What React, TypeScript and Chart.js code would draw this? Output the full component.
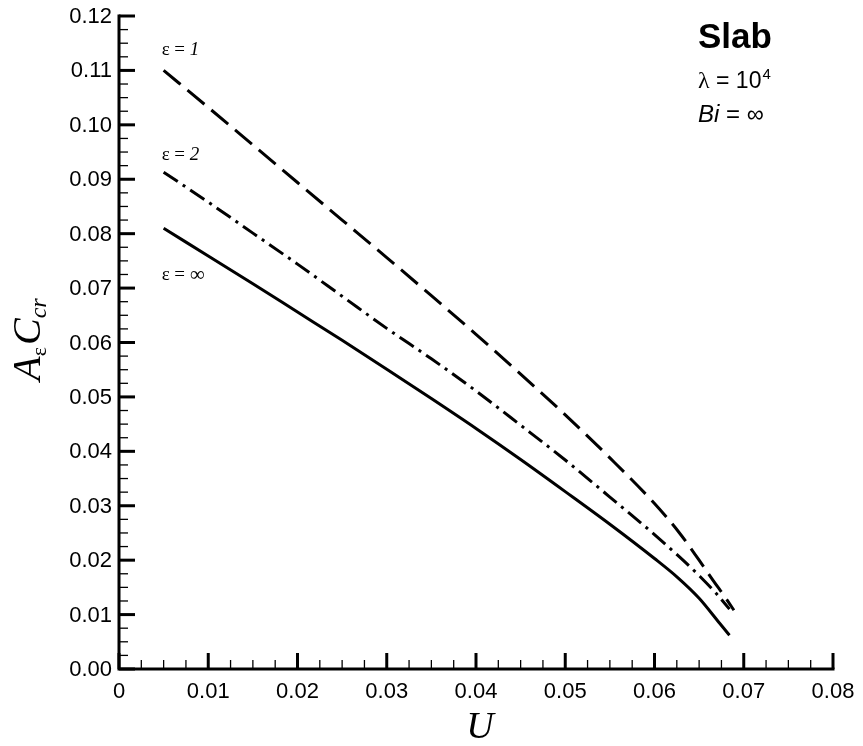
import React, { useEffect, useRef } from "react";
import { Chart, registerables } from "chart.js";

Chart.register(...registerables);

// ε = 1 (dashed)
const U_EPS1 = [0.005, 0.01, 0.015, 0.02, 0.025, 0.03, 0.035, 0.04, 0.045, 0.05, 0.055, 0.06, 0.0628, 0.065, 0.0666, 0.068, 0.0689];
const V_EPS1 = [0.11, 0.1032, 0.0963, 0.0894, 0.0825, 0.0756, 0.0686, 0.0615, 0.0542, 0.0467, 0.0388, 0.0304, 0.025, 0.02, 0.0162, 0.013, 0.0108];
// ε = 2 (dash-dot)
const U_EPS2 = [0.005, 0.01, 0.015, 0.02, 0.025, 0.03, 0.035, 0.04, 0.045, 0.05, 0.055, 0.06, 0.0628, 0.0651, 0.0669, 0.0684];
const V_EPS2 = [0.0913, 0.0858, 0.0801, 0.0744, 0.0685, 0.0626, 0.057, 0.0511, 0.0448, 0.0384, 0.0316, 0.0247, 0.0206, 0.017, 0.0139, 0.011];
// ε = ∞ (solid)
const U_EPSINF = [0.005, 0.01, 0.015, 0.02, 0.025, 0.03, 0.035, 0.04, 0.045, 0.05, 0.055, 0.06, 0.0626, 0.065, 0.0673, 0.0684];
const V_EPSINF = [0.081, 0.0759, 0.0708, 0.0656, 0.0604, 0.0551, 0.0497, 0.0442, 0.0385, 0.0326, 0.0266, 0.0203, 0.0168, 0.013, 0.0084, 0.0062];

const X_TICKS = [0, 0.01, 0.02, 0.03, 0.04, 0.05, 0.06, 0.07, 0.08];
const X_TICK_LABELS = ["0", "0.01", "0.02", "0.03", "0.04", "0.05", "0.06", "0.07", "0.08"];
const Y_TICKS = [0, 0.01, 0.02, 0.03, 0.04, 0.05, 0.06, 0.07, 0.08, 0.09, 0.1, 0.11, 0.12];
const Y_TICK_LABELS = ["0.00", "0.01", "0.02", "0.03", "0.04", "0.05", "0.06", "0.07", "0.08", "0.09", "0.10", "0.11", "0.12"];
const MINOR_STEP = 0.0025;

const SERIES_EPS = ["1", "2", "∞"];

const SANS = '"Liberation Sans", Arial, sans-serif';
const SERIF = '"Liberation Serif", "Times New Roman", serif';

function toPoints(us: number[], vs: number[]) {
  return us.map((u, i) => ({ x: u, y: vs[i] }));
}

const axesPlugin = {
  id: "tecAxes",
  afterDraw(chart: any) {
    const ctx: CanvasRenderingContext2D = chart.ctx;
    const xs = chart.scales.x;
    const ys = chart.scales.y;
    const { left, right, top, bottom } = chart.chartArea;
    ctx.save();
    ctx.strokeStyle = "#000";
    ctx.fillStyle = "#000";

    // minor ticks
    ctx.lineWidth = 1.3;
    ctx.lineCap = "butt";
    for (let k = 0; k <= Math.round(0.08 / MINOR_STEP); k++) {
      if (k % 4 === 0) continue;
      const px = xs.getPixelForValue(k * MINOR_STEP);
      ctx.beginPath();
      ctx.moveTo(px, bottom);
      ctx.lineTo(px, bottom - 9);
      ctx.stroke();
    }
    for (let k = 0; k <= Math.round(0.12 / MINOR_STEP); k++) {
      if (k % 4 === 0) continue;
      const py = ys.getPixelForValue(k * MINOR_STEP);
      ctx.beginPath();
      ctx.moveTo(left, py);
      ctx.lineTo(left + 9, py);
      ctx.stroke();
    }
    // major ticks
    ctx.lineWidth = 3;
    X_TICKS.forEach((v) => {
      const px = xs.getPixelForValue(v);
      ctx.beginPath();
      ctx.moveTo(px, bottom);
      ctx.lineTo(px, bottom - 16);
      ctx.stroke();
    });
    Y_TICKS.forEach((v) => {
      const py = ys.getPixelForValue(v);
      ctx.beginPath();
      ctx.moveTo(left, py);
      ctx.lineTo(left + 16, py);
      ctx.stroke();
    });
    // axis lines
    ctx.lineWidth = 3;
    ctx.lineCap = "square";
    ctx.beginPath();
    ctx.moveTo(left, top);
    ctx.lineTo(left, bottom);
    ctx.lineTo(right, bottom);
    ctx.stroke();

    // tick labels
    ctx.font = `22px ${SANS}`;
    ctx.textAlign = "right";
    ctx.textBaseline = "middle";
    Y_TICKS.forEach((v, i) => {
      ctx.fillText(Y_TICK_LABELS[i], left - 7, ys.getPixelForValue(v) + 1);
    });
    ctx.textAlign = "center";
    X_TICKS.forEach((v, i) => {
      ctx.fillText(X_TICK_LABELS[i], xs.getPixelForValue(v), bottom + 23);
    });

    // axis titles
    ctx.textAlign = "center";
    ctx.textBaseline = "alphabetic";
    ctx.font = `italic 38px ${SERIF}`;
    ctx.fillText("U", (left + right) / 2 + 4, bottom + 69);

    // y title: A_ε C_cr rotated
    ctx.save();
    ctx.translate(40, (top + bottom) / 2 - 3);
    ctx.rotate(-Math.PI / 2);
    const parts = [
      { t: "A", f: `italic 40px ${SERIF}`, dy: 0 },
      { t: "ε", f: `22px ${SERIF}`, dy: 6 },
      { t: "C", f: `italic 40px ${SERIF}`, dy: 0 },
      { t: "cr", f: `italic 24px ${SERIF}`, dy: 6 },
    ];
    let total = 0;
    const widths = parts.map((p) => {
      ctx.font = p.f;
      const w = ctx.measureText(p.t).width;
      total += w;
      return w;
    });
    total += 2;
    let cx = -total / 2;
    ctx.textAlign = "left";
    parts.forEach((p, i) => {
      ctx.font = p.f;
      ctx.fillText(p.t, cx, p.dy);
      cx += widths[i] + (i === 1 ? 2 : 0);
    });
    ctx.restore();

    // series labels
    const starts = [
      { u: U_EPS1[0], v: V_EPS1[0], dy: -20 },
      { u: U_EPS2[0], v: V_EPS2[0], dy: -17 },
      { u: U_EPSINF[0], v: V_EPSINF[0], dy: 47 },
    ];
    ctx.textBaseline = "middle";
    ctx.textAlign = "left";
    starts.forEach((s, i) => {
      let x = xs.getPixelForValue(s.u) - 2;
      const y = ys.getPixelForValue(s.v) + s.dy;
      ctx.font = `19px ${SERIF}`;
      const pre = "ε = ";
      ctx.fillText(pre, x, y);
      x += ctx.measureText(pre).width;
      ctx.font = SERIES_EPS[i] === "∞" ? `21px ${SERIF}` : `italic 19px ${SERIF}`;
      ctx.fillText(SERIES_EPS[i], x, y);
    });

    // annotation box (top right)
    const ax = 698;
    ctx.textBaseline = "alphabetic";
    ctx.font = `bold 35px ${SANS}`;
    ctx.fillText("Slab", ax, 48);
    ctx.font = `24px ${SERIF}`;
    ctx.fillText("λ", ax, 88);
    let lx = ax + ctx.measureText("λ").width;
    ctx.font = `23px ${SANS}`;
    ctx.fillText(" = 10", lx, 88);
    lx += ctx.measureText(" = 10").width;
    ctx.font = `15px ${SANS}`;
    ctx.fillText("4", lx + 1, 79);
    ctx.font = `italic 24px ${SANS}`;
    ctx.fillText("Bi", ax, 122);
    const bx = ax + ctx.measureText("Bi").width;
    ctx.font = `24px ${SANS}`;
    ctx.fillText(" = ∞", bx, 122);

    ctx.restore();
  },
};

export default function App() {
  const ref = useRef<HTMLCanvasElement | null>(null);
  useEffect(() => {
    if (!ref.current) return;
    const chart = new Chart(ref.current, {
      type: "line",
      data: {
        datasets: [
          {
            label: "ε = 1",
            data: toPoints(U_EPS1, V_EPS1),
            borderColor: "#000",
            borderWidth: 3,
            borderDash: [22, 9],
            pointRadius: 0,
            cubicInterpolationMode: "monotone",
            fill: false,
          },
          {
            label: "ε = 2",
            data: toPoints(U_EPS2, V_EPS2),
            borderColor: "#000",
            borderWidth: 3,
            borderDash: [17, 6, 3, 6],
            pointRadius: 0,
            cubicInterpolationMode: "monotone",
            fill: false,
          },
          {
            label: "ε = ∞",
            data: toPoints(U_EPSINF, V_EPSINF),
            borderColor: "#000",
            borderWidth: 3,
            pointRadius: 0,
            cubicInterpolationMode: "monotone",
            fill: false,
          },
        ],
      },
      options: {
        responsive: false,
        animation: false,
        devicePixelRatio: 1,
        layout: { padding: { left: 119, right: 30, top: 16, bottom: 77 } },
        scales: {
          x: { type: "linear", min: 0, max: 0.08, display: false },
          y: { type: "linear", min: 0, max: 0.12, display: false },
        },
        plugins: { legend: { display: false }, tooltip: { enabled: false } },
      },
      plugins: [axesPlugin],
    } as any);
    return () => chart.destroy();
  }, []);
  return (
    <div style={{ position: "absolute", left: 0, top: 0, width: 863, height: 746, background: "#fff" }}>
      <canvas ref={ref} width={863} height={746} style={{ display: "block" }} />
    </div>
  );
}
